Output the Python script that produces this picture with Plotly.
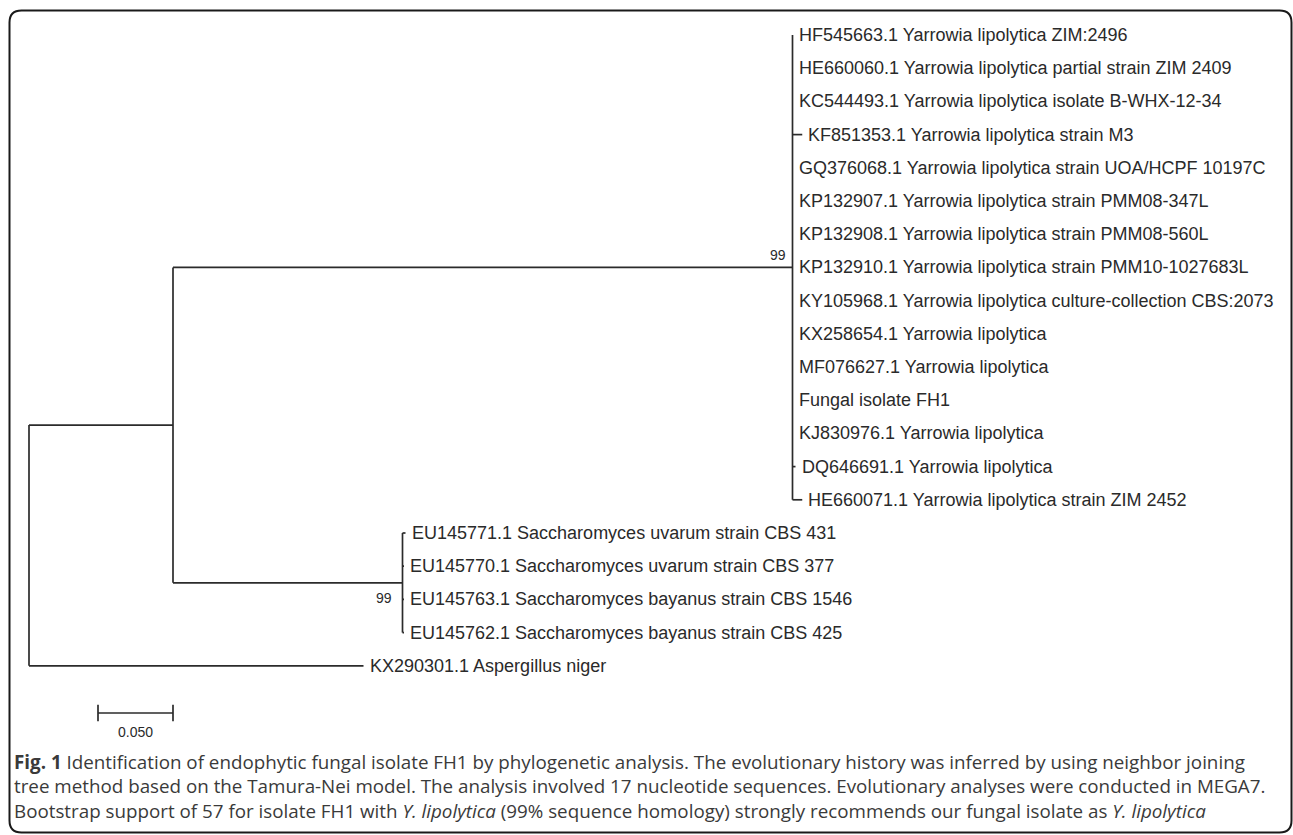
import plotly.graph_objects as go

# ---------------- data ----------------
tip_labels = [
    "HF545663.1 Yarrowia lipolytica ZIM:2496",
    "HE660060.1 Yarrowia lipolytica partial strain ZIM 2409",
    "KC544493.1 Yarrowia lipolytica isolate B-WHX-12-34",
    "KF851353.1 Yarrowia lipolytica strain M3",
    "GQ376068.1 Yarrowia lipolytica strain UOA/HCPF 10197C",
    "KP132907.1 Yarrowia lipolytica strain PMM08-347L",
    "KP132908.1 Yarrowia lipolytica strain PMM08-560L",
    "KP132910.1 Yarrowia lipolytica strain PMM10-1027683L",
    "KY105968.1 Yarrowia lipolytica culture-collection CBS:2073",
    "KX258654.1 Yarrowia lipolytica",
    "MF076627.1 Yarrowia lipolytica",
    "Fungal isolate FH1",
    "KJ830976.1 Yarrowia lipolytica",
    "DQ646691.1 Yarrowia lipolytica",
    "HE660071.1 Yarrowia lipolytica strain ZIM 2452",
    "EU145771.1 Saccharomyces uvarum strain CBS 431",
    "EU145770.1 Saccharomyces uvarum strain CBS 377",
    "EU145763.1 Saccharomyces bayanus strain CBS 1546",
    "EU145762.1 Saccharomyces bayanus strain CBS 425",
    "KX290301.1 Aspergillus niger",
]
# terminal branch lengths (substitutions/site)
yarrowia_tip_len = [0, 0, 0, 0.0065, 0, 0, 0, 0, 0, 0, 0, 0, 0, 0.002, 0.0065]
sacch_tip_len = [0.002, 0.001, 0.001, 0.001]
aspergillus_len = 0.223
# internal branch lengths
ingroup_len = 0.096        # root -> (Yarrowia + Saccharomyces)
yarrowia_stem_len = 0.413
sacch_stem_len = 0.153
bootstrap_yarrowia = "99"
bootstrap_sacch = "99"
scale_bar_len = 0.05
scale_bar_label = "0.050"

caption_lines = [
    "<b>Fig. 1</b> Identification of endophytic fungal isolate FH1 by phylogenetic analysis. The evolutionary history was inferred by using neighbor joining",
    "tree method based on the Tamura-Nei model. The analysis involved 17 nucleotide sequences. Evolutionary analyses were conducted in MEGA7.",
    "Bootstrap support of 57 for isolate FH1 with <i>Y. lipolytica</i> (99% sequence homology) strongly recommends our fungal isolate as <i>Y. lipolytica</i>",
]

# ---------------- layout geometry ----------------
W, H = 1293, 835
PX_PER_UNIT = 1500.0
ROOT_PX = 29.0
ROW0_PX = 35.0
ROW_PX = 33.2
LABEL_FONT = dict(family="Liberation Sans, Arial", size=18, color="#2a2a2a")
SMALL_FONT = dict(family="Liberation Sans, Arial", size=14, color="#2a2a2a")

# ---------------- tree coordinates ----------------
n_yar = len(yarrowia_tip_len)
n_sac = len(sacch_tip_len)
yar_rows = list(range(n_yar))
sac_rows = list(range(n_yar, n_yar + n_sac))
asp_row = n_yar + n_sac

root_x = 0.0
in_x = root_x + ingroup_len
yar_x = in_x + yarrowia_stem_len
sac_x = in_x + sacch_stem_len
yar_y = (yar_rows[0] + yar_rows[-1]) / 2
sac_y = (sac_rows[0] + sac_rows[-1]) / 2
in_y = (yar_y + sac_y) / 2

xs, ys = [], []
def seg(x0, y0, x1, y1):
    xs.extend([x0, x1, None]); ys.extend([y0, y1, None])

# root
seg(root_x, in_y, root_x, asp_row)
seg(root_x, in_y, in_x, in_y)
seg(root_x, asp_row, root_x + aspergillus_len, asp_row)
# ingroup node
seg(in_x, yar_y, in_x, sac_y)
seg(in_x, yar_y, yar_x, yar_y)
seg(in_x, sac_y, sac_x, sac_y)
# Yarrowia clade
seg(yar_x, yar_rows[0], yar_x, yar_rows[-1])
tip_x = []
for r, bl in zip(yar_rows, yarrowia_tip_len):
    if bl > 0:
        seg(yar_x, r, yar_x + bl, r)
    tip_x.append(yar_x + bl)
# Saccharomyces clade
seg(sac_x, sac_rows[0], sac_x, sac_rows[-1])
for r, bl in zip(sac_rows, sacch_tip_len):
    if bl > 0:
        seg(sac_x, r, sac_x + bl, r)
    tip_x.append(sac_x + bl)
tip_x.append(root_x + aspergillus_len)
tip_y = yar_rows + sac_rows + [asp_row]

# scale bar
sb_x0 = (98 - ROOT_PX) / PX_PER_UNIT
sb_row = (713 - ROW0_PX) / ROW_PX
sb_x1 = sb_x0 + scale_bar_len
tick = 0.25
seg(sb_x0, sb_row, sb_x1, sb_row)
seg(sb_x0, sb_row - tick, sb_x0, sb_row + tick)
seg(sb_x1, sb_row - tick, sb_x1, sb_row + tick)

fig = go.Figure()
fig.add_trace(go.Scatter(x=xs, y=ys, mode="lines",
                         line=dict(color="#2b2b2b", width=1.7),
                         hoverinfo="skip", showlegend=False))

annotations = []
for tx, ty, lab in zip(tip_x, tip_y, tip_labels):
    annotations.append(dict(x=tx, y=ty, xref="x", yref="y", text=lab,
                            showarrow=False, xanchor="left", yanchor="middle",
                            xshift=4, font=LABEL_FONT))
# bootstrap labels
annotations.append(dict(x=yar_x, y=yar_y, xref="x", yref="y", text=bootstrap_yarrowia,
                        showarrow=False, xanchor="right", yanchor="bottom",
                        xshift=-5, yshift=2, font=SMALL_FONT))
annotations.append(dict(x=sac_x, y=sac_y, xref="x", yref="y", text=bootstrap_sacch,
                        showarrow=False, xanchor="right", yanchor="top",
                        xshift=-9, yshift=-5, font=SMALL_FONT))
annotations.append(dict(x=(sb_x0 + sb_x1) / 2, y=sb_row, xref="x", yref="y", text=scale_bar_label,
                        showarrow=False, xanchor="center", yanchor="top", yshift=-9,
                        font=SMALL_FONT))
# caption (one block, three lines)
annotations.append(dict(x=12 / W, y=1 - 786 / H, xref="paper", yref="paper",
                        text="<br>".join(caption_lines), align="left",
                        showarrow=False, xanchor="left", yanchor="middle",
                        font=dict(family="Open Sans", size=18.8, color="#3a3a3a")))

# rounded frame
def px(xp, yp):
    return f"{xp / W:.5f},{1 - yp / H:.5f}"
L, T, R, B, rr = 9.5, 10.5, 1291.5, 832.5, 12
path = (f"M {px(L, T + rr)} Q {px(L, T)} {px(L + rr, T)} L {px(R - rr, T)} "
        f"Q {px(R, T)} {px(R, T + rr)} L {px(R, B - rr)} Q {px(R, B)} {px(R - rr, B)} "
        f"L {px(L + rr, B)} Q {px(L, B)} {px(L, B - rr)} Z")
shapes = [dict(type="path", xref="paper", yref="paper", path=path,
               line=dict(color="#1a1a1a", width=2))]

fig.update_layout(
    width=W, height=H,
    margin=dict(l=0, r=0, t=0, b=0),
    paper_bgcolor="white", plot_bgcolor="white",
    xaxis=dict(range=[-ROOT_PX / PX_PER_UNIT, (W - ROOT_PX) / PX_PER_UNIT],
               visible=False, fixedrange=True),
    yaxis=dict(range=[(H - ROW0_PX) / ROW_PX, -ROW0_PX / ROW_PX],
               visible=False, fixedrange=True),
    annotations=annotations,
    shapes=shapes,
)

fig.write_html("out.html", config={"displayModeBar": False},
               post_script="document.body.style.margin='0';document.body.style.overflow='hidden';")
